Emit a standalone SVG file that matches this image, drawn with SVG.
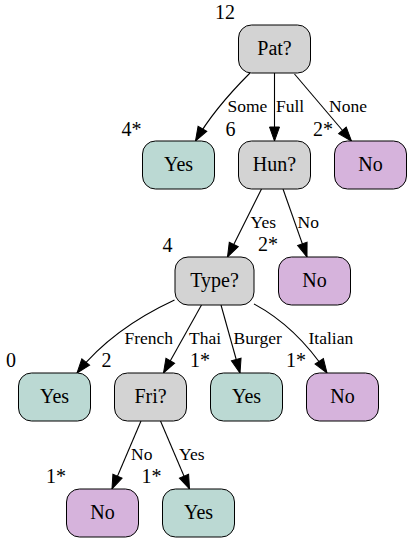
<svg xmlns="http://www.w3.org/2000/svg" width="412" height="543" viewBox="0 0 412 543">
<style>
.n rect{stroke:#000;stroke-width:1}
.q{fill:#d3d3d3}
.y{fill:#bbd9d3}
.no{fill:#d6b3dc}
.xl{font-family:'Liberation Serif','Times New Roman',serif;font-size:20px;text-anchor:middle;fill:#000}
.el{font-family:'Liberation Serif','Times New Roman',serif;font-size:17.5px;fill:#000}
#edges path{fill:none;stroke:#000;stroke-width:1.1;marker-end:url(#arr)}
</style>
<defs>
<marker id="arr" markerUnits="userSpaceOnUse" markerWidth="16" markerHeight="12" refX="14" refY="5" orient="auto" overflow="visible">
<path d="M0,0 L14,5 L0,10 z" fill="#000" stroke="#000" stroke-width="1"/>
</marker>
</defs>
<rect width="412" height="543" fill="#fff"/>
<g id="edges">
<path d="M250,73 C234,89 212,112 195.5,141"/>
<path d="M274.5,72.5 L274.5,141"/>
<path d="M294.5,74 L351.5,141"/>
<path d="M261.5,189 L227.5,257"/>
<path d="M283,189 L307,257"/>
<path d="M174.5,300 C140,316 105,338 77,373"/>
<path d="M201.5,305 L163.5,373"/>
<path d="M221,305 L240,373"/>
<path d="M254,304 C280,318 305,340 327,373"/>
<path d="M141,421 L112,489"/>
<path d="M160.5,421 L189.5,489"/>
</g>
<g id="edge-labels">
<text class="el" x="227.5" y="112">Some</text>
<text class="el" x="276" y="112">Full</text>
<text class="el" x="329" y="112">None</text>
<text class="el" x="250.5" y="228">Yes</text>
<text class="el" x="297.5" y="228">No</text>
<text class="el" x="124.5" y="343.5">French</text>
<text class="el" x="189" y="343.5">Thai</text>
<text class="el" x="233.5" y="343.5">Burger</text>
<text class="el" x="308.5" y="343.5">Italian</text>
<text class="el" x="131" y="459.5">No</text>
<text class="el" x="179" y="459.5">Yes</text>
</g>
<g id="pat" class="n"><rect class="q" x="238.5" y="25" width="72" height="48" rx="13"/><text class="xl" x="274.5" y="54.5" font-family="Liberation Serif">Pat?</text><text class="xl" x="225" y="19">12</text></g>
<g id="yes1" class="n"><rect class="y" x="142.5" y="141" width="72" height="48" rx="13"/><text class="xl" x="178.5" y="170.5" font-family="Liberation Serif">Yes</text><text class="xl" x="131.5" y="136">4*</text></g>
<g id="hun" class="n"><rect class="q" x="238.5" y="141" width="72" height="48" rx="13"/><text class="xl" x="274.5" y="170.5" font-family="Liberation Serif">Hun?</text><text class="xl" x="230.5" y="136">6</text></g>
<g id="no1" class="n"><rect class="no" x="334.5" y="141" width="72" height="48" rx="13"/><text class="xl" x="370.5" y="170.5" font-family="Liberation Serif">No</text><text class="xl" x="323" y="136">2*</text></g>
<g id="type" class="n"><rect class="q" x="175" y="257" width="79" height="48" rx="13"/><text class="xl" x="214.5" y="286.5" font-family="Liberation Serif">Type?</text><text class="xl" x="167.5" y="252">4</text></g>
<g id="no2" class="n"><rect class="no" x="278.5" y="257" width="72" height="48" rx="13"/><text class="xl" x="314.5" y="286.5" font-family="Liberation Serif">No</text><text class="xl" x="268" y="251">2*</text></g>
<g id="yes2" class="n"><rect class="y" x="18.5" y="373" width="72" height="48" rx="13"/><text class="xl" x="54.5" y="402.5" font-family="Liberation Serif">Yes</text><text class="xl" x="11" y="367">0</text></g>
<g id="fri" class="n"><rect class="q" x="114.5" y="373" width="72" height="48" rx="13"/><text class="xl" x="150.5" y="402.5" font-family="Liberation Serif">Fri?</text><text class="xl" x="106.5" y="367">2</text></g>
<g id="yes3" class="n"><rect class="y" x="210.5" y="373" width="72" height="48" rx="13"/><text class="xl" x="246.5" y="402.5" font-family="Liberation Serif">Yes</text><text class="xl" x="200" y="367">1*</text></g>
<g id="no3" class="n"><rect class="no" x="306.5" y="373" width="72" height="48" rx="13"/><text class="xl" x="342.5" y="402.5" font-family="Liberation Serif">No</text><text class="xl" x="296" y="367">1*</text></g>
<g id="no4" class="n"><rect class="no" x="66.5" y="489" width="72" height="48" rx="13"/><text class="xl" x="102.5" y="518.5" font-family="Liberation Serif">No</text><text class="xl" x="56" y="483">1*</text></g>
<g id="yes4" class="n"><rect class="y" x="162.5" y="489" width="72" height="48" rx="13"/><text class="xl" x="198.5" y="518.5" font-family="Liberation Serif">Yes</text><text class="xl" x="151.5" y="483">1*</text></g>
</svg>
